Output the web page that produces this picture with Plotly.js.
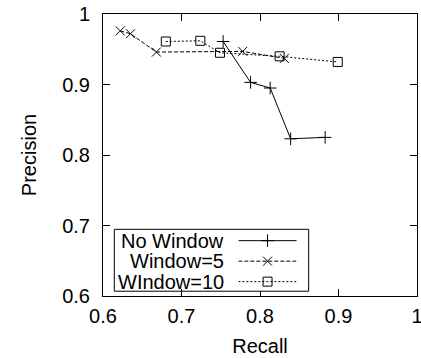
<!DOCTYPE html>
<html>
<head>
<meta charset="utf-8">
<script src="https://cdn.plot.ly/plotly-3.0.1.min.js"></script>
<style>html,body{margin:0;padding:0;background:#fff;}#chart{width:421px;height:358px;}</style>
</head>
<body>
<div id="chart"></div>
<script>
var seriesNames = ["No Window", "Window=5", "WIndow=10"];
var noWindowRecall = [0.753, 0.788, 0.813, 0.839, 0.883];
var noWindowPrecision = [0.961, 0.903, 0.895, 0.823, 0.825];
var window5Recall = [0.622, 0.635, 0.668, 0.778, 0.831];
var window5Precision = [0.976, 0.972, 0.946, 0.947, 0.937];
var window10Recall = [0.680, 0.724, 0.749, 0.825, 0.899];
var window10Precision = [0.961, 0.962, 0.945, 0.940, 0.932];
var axisTicks = [0.6, 0.7, 0.8, 0.9, 1];
var axisTickText = ["0.6", "0.7", "0.8", "0.9", "1"];

var styles = [
  {dash: "solid", symbol: "cross-thin", size: 9},
  {dash: "4px,2px", symbol: "x-thin", size: 9},
  {dash: "2px,2px", symbol: "square-open", size: 9}
];
var xs = [noWindowRecall, window5Recall, window10Recall];
var ys = [noWindowPrecision, window5Precision, window10Precision];

var traces = [];
for (var i = 0; i < 3; i++) {
  traces.push({
    x: xs[i], y: ys[i], mode: "lines+markers", name: seriesNames[i], showlegend: false,
    line: {color: "#000", width: 1, dash: styles[i].dash},
    marker: {symbol: styles[i].symbol, size: styles[i].size, color: "#000", line: {color: "#000", width: 1}}
  });
}
// custom gnuplot-style key (text left, sample right)
var keyRows = [3, 2, 1];
var annotations = [];
for (var j = 0; j < 3; j++) {
  traces.push({
    x: [0, 1], y: [keyRows[j], keyRows[j]], xaxis: "x2", yaxis: "y2", mode: "lines", showlegend: false, hoverinfo: "skip",
    line: {color: "#000", width: 1, dash: styles[j].dash}
  });
  traces.push({
    x: [0.5], y: [keyRows[j]], xaxis: "x2", yaxis: "y2", mode: "markers", showlegend: false, hoverinfo: "skip",
    marker: {symbol: styles[j].symbol, size: styles[j].size, color: "#000", line: {color: "#000", width: 1}}
  });
  annotations.push({
    text: seriesNames[j], xref: "paper", yref: "y2", x: 0.391, y: keyRows[j], xanchor: "right", yanchor: "middle",
    showarrow: false, font: {size: 20, color: "#000"}
  });
}

var fontFam = "Liberation Sans, Arial, sans-serif";
var layout = {
  width: 421, height: 358,
  margin: {l: 103, r: 4, t: 14, b: 62},
  paper_bgcolor: "#fff", plot_bgcolor: "#fff",
  font: {family: fontFam, size: 20, color: "#000"},
  showlegend: false,
  xaxis: {
    range: [0.6, 1], tickvals: axisTicks, ticktext: axisTickText, ticklabeloverflow: "allow",
    ticks: "inside", ticklen: 7, tickcolor: "#000", showline: true, linecolor: "#000", linewidth: 1,
    mirror: "ticks", showgrid: false, zeroline: false, ticklabelstandoff: 2,
    title: {text: "Recall", font: {size: 20}, standoff: 12}
  },
  yaxis: {
    range: [0.6, 1], tickvals: axisTicks, ticktext: axisTickText, ticklabeloverflow: "allow",
    ticks: "inside", ticklen: 7, tickcolor: "#000", showline: true, linecolor: "#000", linewidth: 1,
    mirror: "ticks", showgrid: false, zeroline: false, ticklabelstandoff: 8,
    title: {text: "Precision", font: {size: 20}, standoff: 20}
  },
  xaxis2: {domain: [0.431, 0.617], range: [0, 1], visible: false, anchor: "y2", fixedrange: true},
  yaxis2: {domain: [0.017, 0.2365], range: [0.532, 3.556], visible: false, anchor: "x2", fixedrange: true},
  shapes: [{type: "rect", xref: "paper", yref: "paper", x0: 0.036, x1: 0.655, y0: 0.017, y1: 0.2365,
    line: {color: "#000", width: 1}, fillcolor: "rgba(0,0,0,0)"}],
  annotations: annotations
};
Plotly.newPlot("chart", traces, layout, {displayModeBar: false, staticPlot: true});
</script>
</body>
</html>
